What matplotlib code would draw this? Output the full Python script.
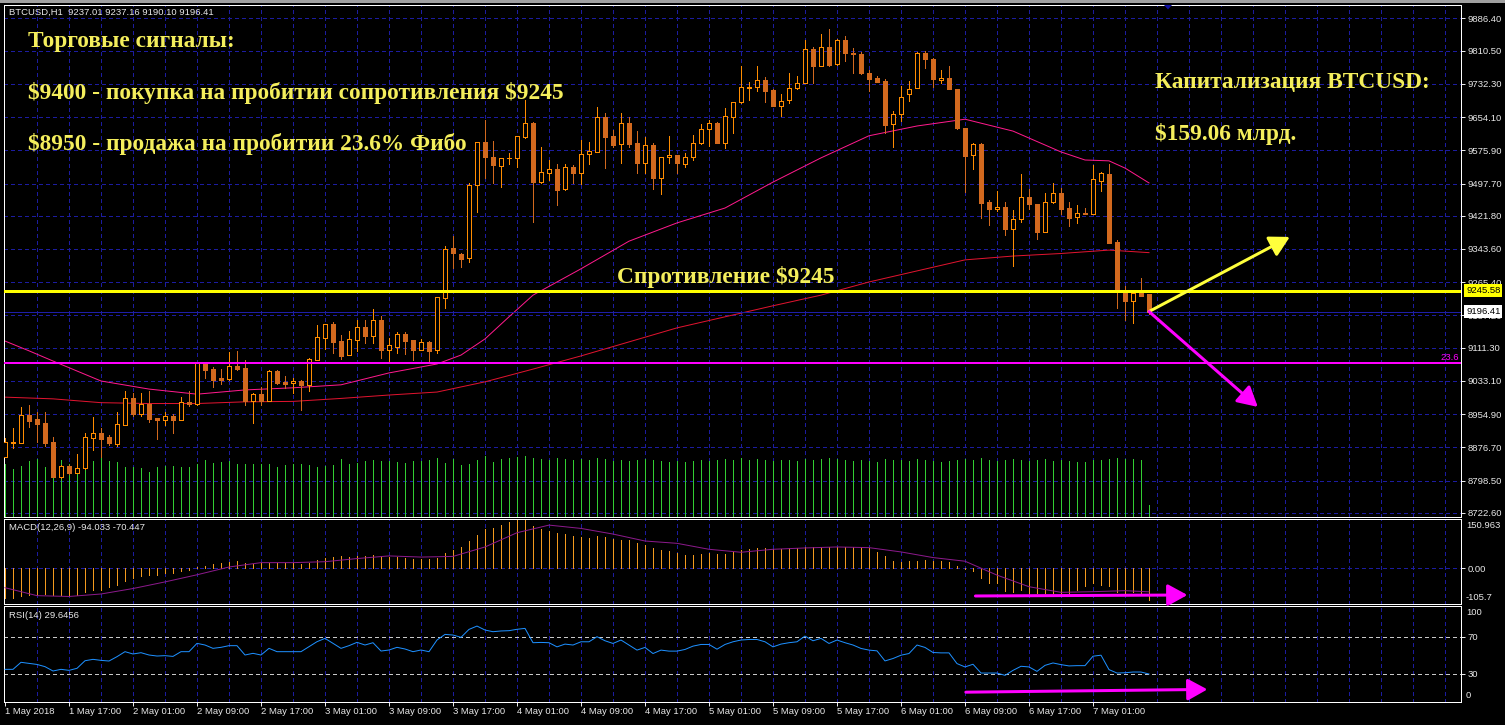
import numpy as np
import matplotlib
matplotlib.use("Agg")
import matplotlib.pyplot as plt
from matplotlib import transforms
from matplotlib.patches import Rectangle, FancyArrowPatch, Polygon

# ---------------- data ----------------
opens = [8855, 8888, 8888, 8952, 8944, 8933, 8889, 8808, 8833, 8817,
         8828, 8900, 8910, 8901, 8885, 8930, 8992, 8956, 8980, 8946,
         8941, 8951, 8942, 8984, 8978, 9075, 9061, 9040, 9038, 9068,
         9064, 8986, 9002, 8986, 9057, 9031, 9028, 9033, 9024, 9083,
         9135, 9167, 9127, 9093, 9130, 9160, 9139, 9177, 9106, 9113,
         9144, 9129, 9106, 9125, 9106, 9229, 9346, 9332, 9322, 9493,
         9595, 9560, 9538, 9557, 9557, 9608, 9639, 9502, 9523, 9532,
         9484, 9537, 9523, 9566, 9572, 9653, 9609, 9590, 9639, 9592,
         9545, 9589, 9510, 9561, 9565, 9544, 9559, 9592, 9625, 9641,
         9594, 9653, 9689, 9722, 9724, 9741, 9718, 9680, 9693, 9722,
         9735, 9813, 9773, 9818, 9778, 9835, 9805, 9802, 9757, 9745,
         9739, 9637, 9661, 9708, 9722, 9805, 9790, 9741, 9745, 9719,
         9628, 9565, 9591, 9455, 9437, 9442, 9391, 9413, 9467, 9449,
         9384, 9455, 9475, 9439, 9418, 9429, 9425, 9504, 9520, 9361,
         9247, 9221, 9243, 9237.01]
highs = [8900, 8922, 8972, 8976, 8960, 8960, 8901, 8836, 8836, 8861,
         8910, 8948, 8922, 8906, 8960, 9009, 9004, 9004, 9009, 8946,
         8960, 8955, 8995, 9009, 9076, 9076, 9067, 9061, 9101, 9104,
         9082, 9004, 9019, 9059, 9059, 9045, 9040, 9035, 9087, 9165,
         9167, 9172, 9142, 9151, 9177, 9177, 9202, 9186, 9134, 9148,
         9148, 9130, 9132, 9127, 9231, 9351, 9374, 9333, 9499, 9595,
         9647, 9598, 9558, 9569, 9610, 9694, 9643, 9584, 9553, 9544,
         9544, 9541, 9600, 9595, 9678, 9663, 9624, 9663, 9653, 9621,
         9608, 9592, 9561, 9609, 9565, 9569, 9612, 9638, 9647, 9643,
         9675, 9689, 9774, 9737, 9774, 9748, 9719, 9708, 9757, 9751,
         9835, 9820, 9849, 9861, 9837, 9845, 9816, 9806, 9765, 9751,
         9743, 9668, 9727, 9739, 9806, 9809, 9792, 9765, 9773, 9720,
         9629, 9594, 9592, 9459, 9480, 9455, 9435, 9520, 9484, 9449,
         9476, 9500, 9486, 9453, 9447, 9440, 9541, 9525, 9543, 9365,
         9257, 9241, 9276, 9237.16]
lows = [8855, 8876, 8888, 8925, 8890, 8881, 8808, 8805, 8815, 8817,
        8827, 8871, 8855, 8882, 8881, 8930, 8951, 8951, 8937, 8897,
        8929, 8911, 8942, 8974, 8977, 9041, 9018, 9027, 9035, 9059,
        8977, 8934, 8977, 8986, 9027, 9017, 9005, 8965, 9010, 9083,
        9108, 9099, 9085, 9093, 9104, 9122, 9122, 9087, 9078, 9099,
        9097, 9082, 9106, 9080, 9099, 9205, 9299, 9301, 9314, 9431,
        9511, 9499, 9490, 9544, 9537, 9605, 9408, 9500, 9506, 9447,
        9482, 9500, 9497, 9544, 9572, 9533, 9584, 9547, 9584, 9523,
        9523, 9484, 9473, 9547, 9523, 9537, 9553, 9591, 9587, 9592,
        9581, 9616, 9686, 9694, 9716, 9690, 9681, 9657, 9688, 9720,
        9733, 9735, 9773, 9774, 9776, 9787, 9758, 9755, 9716, 9737,
        9616, 9583, 9645, 9692, 9722, 9769, 9724, 9735, 9719, 9627,
        9478, 9531, 9416, 9400, 9434, 9377, 9304, 9408, 9438, 9367,
        9384, 9451, 9426, 9398, 9405, 9425, 9425, 9481, 9358, 9205,
        9177, 9169, 9234, 9190.10]
closes = [8889, 8890, 8952, 8940, 8932, 8888, 8808, 8833, 8817, 8828,
          8901, 8910, 8897, 8888, 8931, 8992, 8956, 8980, 8944, 8941,
          8951, 8942, 8984, 8978, 9075, 9059, 9035, 9035, 9068, 9061,
          8986, 9002, 8986, 9057, 9028, 9027, 9033, 9024, 9085, 9136,
          9167, 9125, 9092, 9132, 9160, 9139, 9177, 9106, 9118, 9144,
          9127, 9106, 9125, 9104, 9230, 9343, 9335, 9321, 9493, 9595,
          9559, 9542, 9557, 9558, 9609, 9639, 9502, 9524, 9531, 9482,
          9537, 9522, 9566, 9574, 9653, 9608, 9588, 9639, 9591, 9545,
          9588, 9510, 9561, 9565, 9545, 9559, 9592, 9625, 9641, 9594,
          9657, 9689, 9724, 9725, 9741, 9716, 9681, 9692, 9722, 9733,
          9813, 9773, 9818, 9777, 9835, 9804, 9802, 9757, 9744, 9737,
          9635, 9661, 9702, 9719, 9804, 9790, 9743, 9745, 9719, 9628,
          9563, 9591, 9451, 9437, 9442, 9391, 9413, 9467, 9449, 9384,
          9455, 9475, 9438, 9417, 9428, 9426, 9508, 9522, 9358, 9247,
          9221, 9241, 9234, 9196.41]
volumes = [2635, 2385, 2550, 2800, 2885, 2465, 2385, 2835, 2635, 2685,
           2685, 2800, 2965, 2800, 2735, 2500, 2500, 2435, 2250, 2500,
           2550, 2550, 2500, 2500, 2635, 2835, 2700, 2715, 2800, 2635,
           2635, 2635, 2635, 2635, 2500, 2600, 2635, 2635, 2600, 2465,
           2550, 2600, 2885, 2635, 2685, 2800, 2835, 2800, 2800, 2750,
           2685, 2800, 2800, 2850, 2935, 2700, 2885, 2600, 2635, 2850,
           3050, 2750, 2900, 2950, 3000, 3050, 2950, 2900, 2850, 2950,
           2900, 2850, 2900, 2850, 2950, 2900, 2800, 2850, 2800, 2850,
           2900, 2850, 2800, 2750, 2800, 2750, 2800, 2850, 2800, 2850,
           2900, 2850, 2950, 2850, 2900, 2850, 2800, 2850, 2850, 2800,
           2900, 2850, 2900, 2950, 2900, 2850, 2800, 2850, 2800, 2750,
           2900, 2850, 2850, 2800, 2900, 2850, 2800, 2750, 2800, 2850,
           2900, 2850, 2950, 2850, 2800, 2850, 2900, 2850, 2800, 2850,
           2900, 2800, 2850, 2800, 2750, 2750, 2850, 2850, 2900, 2950,
           2900, 2900, 2850, 600]

ma_fast_bars = [0, 3, 6, 12, 18, 24, 30, 36, 42, 48, 54, 57, 60, 63, 66, 72, 78, 84,
                90, 96, 102, 108, 114, 120, 126, 132, 135, 138, 140, 143]
ma_fast_vals = [9127, 9104, 9080, 9033, 9014, 9002, 9012, 9017, 9024, 9052, 9073, 9094,
                9132, 9184, 9235, 9297, 9362, 9405, 9440, 9501, 9558, 9610, 9633, 9649,
                9621, 9572, 9553, 9551, 9534, 9499]
ma_slow_bars = [0, 6, 12, 18, 24, 30, 36, 42, 48, 54, 60, 66, 72, 78, 84, 90, 96,
                102, 108, 114, 120, 126, 132, 138, 143]
ma_slow_vals = [8995, 8991, 8982, 8980, 8980, 8984, 8985, 8992, 9000, 9007, 9031, 9061,
                9092, 9125, 9158, 9184, 9210, 9235, 9266, 9292, 9318, 9327, 9333, 9341, 9335]

macd_hist = [-90, -90, -84, -81, -79, -76, -81, -81, -83, -81,
             -71, -66, -66, -55, -50, -36.5, -29, -24, -21, -19,
             -15, -15, -8, -6, 4, 9, 12.5, 16, 20, 23,
             17.7, 12.5, 17.7, 17.7, 17.7, 17.7, 17.7, 14.6, 17.7, 26,
             33, 35.5, 36.5, 35.5, 38.6, 38.6, 41.7, 38.6, 35.5, 35.5,
             33, 30, 28, 28, 33, 46, 57, 64.7, 82, 101,
             119, 122, 131, 140, 150.9, 145, 128, 118, 112.6, 107.4,
             104, 97, 95, 91.8, 97, 94, 89.7, 86.6, 86.6, 76,
             71, 60.5, 55.3, 52, 48, 41.7, 41.7, 44.8, 48, 44.8,
             44.8, 50, 55.3, 58.4, 60.5, 62.6, 58.4, 58.4, 60.5, 62.6,
             65.7, 65.7, 65.7, 65.7, 65.7, 65.7, 65.7, 65.7, 60.5, 50,
             37.5, 24, 18.8, 24, 24, 27, 24, 22, 18.8, 8.3,
             -2, -7.3, -28, -43.8, -43.8, -66.8, -70, -64.7, -73, -75,
             -75, -73, -75, -73, -64.7, -54, -43.8, -49, -54, -70,
             -75, -70, -75, -94.033]
signal_bars = [0, 4, 8, 12, 16, 20, 24, 28, 32, 36, 40, 44, 48, 52, 56, 60, 64, 68,
               72, 76, 80, 84, 88, 92, 96, 100, 104, 108, 112, 116, 120, 124, 128,
               132, 136, 140, 143]
signal_vals = [-58, -82, -84.5, -77, -60.5, -40.5, -19, 4.5, 17.7, 17.7, 20.5, 30, 38,
               34.5, 36.5, 65, 108, 131, 121, 104, 83, 76, 58, 49, 58, 62, 65, 63, 50,
               33, 22, -20, -55, -72, -70, -67, -70.447]

rsi = [34.7, 34.7, 42.3, 41.2, 40, 37.6, 32.9, 34.7, 33.6, 35.8,
       44, 45.5, 44.4, 43.7, 48.4, 53.8, 51.3, 52.7, 50.2, 49.1,
       49.5, 48.7, 53.8, 53.8, 62.8, 61, 57.4, 58.5, 60.3, 60.3,
       50.2, 52, 50.2, 57.4, 53.8, 53.8, 53.8, 53.8, 59.2, 64.6,
       68.2, 62.8, 57.4, 60.3, 63.9, 61, 63.5, 54.5, 55.6, 58.5,
       56.7, 53.8, 55.6, 53.8, 66.4, 72.5, 71.8, 69.3, 77.9, 81.5,
       77.2, 75.4, 76.2, 76.5, 78, 79, 63.5, 63.8, 63.5, 59,
       62, 61, 64.5, 64.5, 70, 65.6, 62.7, 66.4, 61, 55.5,
       58.4, 51.8, 55.5, 54.4, 54.4, 56.2, 59.8, 61.6, 61.6, 56.5,
       61.6, 64.5, 66.4, 67, 67, 64.5, 59, 62, 63.5, 64.5,
       70.7, 65.6, 68.2, 62.7, 66.4, 63.5, 61, 57.3, 55.5, 54.7,
       43.8, 46.4, 50, 51.8, 61, 58.4, 52.9, 52.5, 52.5, 40.9,
       37.3, 40.2, 30.7, 30.7, 30.7, 28.2, 33.6, 38, 37.3, 32.5,
       39, 41.6, 39.8, 38.4, 38.7, 38.7, 48.9, 50, 34.4, 30.7,
       31, 31.8, 31.8, 29.6456]

price_ticks = [9886.40, 9810.50, 9732.30, 9654.10, 9575.90, 9497.70, 9421.80, 9343.60,
               9265.40, 9187.20, 9111.30, 9033.10, 8954.90, 8876.70, 8798.50, 8722.60]
time_label_bars = [0, 8, 16, 24, 32, 40, 48, 56, 64, 72, 80, 88, 96, 104, 112, 120, 128, 136]
time_labels = ["1 May 2018", "1 May 17:00", "2 May 01:00", "2 May 09:00", "2 May 17:00",
               "3 May 01:00", "3 May 09:00", "3 May 17:00", "4 May 01:00", "4 May 09:00",
               "4 May 17:00", "5 May 01:00", "5 May 09:00", "5 May 17:00", "6 May 01:00",
               "6 May 09:00", "6 May 17:00", "7 May 01:00"]
resistance = 9245.58
fibo_236 = 9076.0
last_price = 9196.41

# ---------------- style ----------------
W, H, DPI = 1505, 725, 100
plt.rcParams['font.family'] = ['Liberation Sans', 'DejaVu Sans']
plt.rcParams['lines.scale_dashes'] = False
GRID = '#1C1CA0'
FG = '#E8E8E8'
UP = '#FF8C00'
DN = '#D2691E'
YEL_TXT = '#F4EE5C'
LBL = 6.8
PX = 72.0 / DPI
DASH = (0, (4 * PX, 3 * PX))

fig = plt.figure(figsize=(W / DPI, H / DPI), dpi=DPI, facecolor='black')


def rect(left, top, right, bottom):
    return [left / W, 1 - bottom / H, (right - left) / W, (bottom - top) / H]


def fpos(x, y):
    return x / W, 1 - y / H


ax = fig.add_axes(rect(4, 5, 1461, 516.7))
axm = fig.add_axes(rect(4, 518.5, 1461, 603.5), sharex=ax)
axr = fig.add_axes(rect(4, 606, 1461, 701.7), sharex=ax)

idx = np.arange(len(closes))
O = np.array(opens, float)
Hh = np.array(highs, float)
L = np.array(lows, float)
C = np.array(closes, float)

for a in (ax, axm, axr):
    a.set_facecolor('black')
    for s in a.spines.values():
        s.set_color('white')
        s.set_linewidth(1 * PX)
    a.tick_params(axis='y', which='both', left=False, right=True, labelleft=False,
                  labelright=True, colors=FG, labelcolor=FG, labelsize=LBL,
                  length=3, width=1 * PX, pad=2)
    a.tick_params(axis='x', bottom=False, labelbottom=False, top=False)
    for b in range(4, 184, 4):
        a.axvline(b, color=GRID, lw=1 * PX, ls=DASH, zorder=0.5, antialiased=False)

ax.set_xlim(-0.125, 182)
ax.set_ylim(8713.7, 9917.7)

# price grid and ticks
ax.set_yticks(price_ticks)
ax.set_yticklabels([f"{v:.2f}" for v in price_ticks])
for v in price_ticks:
    ax.axhline(v, color=GRID, lw=1 * PX, ls=DASH, zorder=0.5, antialiased=False)

# volume (bottom of main window)
vol_tr = transforms.blended_transform_factory(ax.transData, ax.transAxes)
VOL_TOP = 25600
ax.vlines(idx, 0, np.array(volumes) / VOL_TOP, transform=vol_tr, color='#32CD32',
          lw=1 * PX, zorder=1, antialiased=False)

# moving averages
ax.plot(ma_slow_bars, ma_slow_vals, color='#E0142F', lw=1 * PX, zorder=2)
ax.plot(ma_fast_bars, ma_fast_vals, color='#FF1A8C', lw=1 * PX, zorder=2)

# candles
up = C >= O
wick_colors = [UP if u else DN for u in up]
ax.vlines(idx, L, Hh, colors=wick_colors, lw=1 * PX, zorder=3, antialiased=False)
body_lo = np.minimum(O, C)
body_h = np.maximum(np.abs(C - O), 0.8)
ax.bar(idx[up], body_h[up], bottom=body_lo[up], width=0.62, facecolor='black',
       edgecolor=UP, lw=1 * PX, zorder=4, antialiased=False)
ax.bar(idx[~up], body_h[~up], bottom=body_lo[~up], width=0.62, facecolor=DN,
       edgecolor=DN, lw=1 * PX, zorder=4, antialiased=False)

# horizontal levels
ax.axhline(last_price, color='#1E1EA8', lw=1 * PX, zorder=2.5)
ax.axhline(fibo_236, color='#FF00FF', lw=2 * PX, zorder=5)
ax.axhline(resistance, color='#FFFF00', lw=3 * PX, zorder=5)
lvl_tr = transforms.blended_transform_factory(ax.transAxes, ax.transData)
ax.text(0.9986, fibo_236 + 2, '23.6', transform=lvl_tr, ha='right', va='bottom',
        color='#FF00FF', fontsize=LBL, zorder=6)
ax.text(1.0035, resistance, f"{resistance:.2f}", transform=lvl_tr, ha='left',
        va='center', color='black', fontsize=LBL, zorder=10, clip_on=False,
        bbox=dict(boxstyle='square,pad=0.2', fc='#FFFF00', ec='none'))
ax.text(1.0035, last_price, f"{last_price:.2f}", transform=lvl_tr, ha='left',
        va='center', color='black', fontsize=LBL, zorder=10, clip_on=False,
        bbox=dict(boxstyle='square,pad=0.2', fc='white', ec='none'))


# arrows
def arrow(a, p0, p1, color):
    arr = FancyArrowPatch(p0, p1, arrowstyle='-|>,head_length=1.0,head_width=0.55',
                          mutation_scale=12, color=color, lw=3 * PX, shrinkA=0,
                          shrinkB=0, zorder=8, clip_on=False)
    a.add_patch(arr)


arrow(ax, (143, last_price), (160.6, 9372), '#FFFF3C')
arrow(ax, (143, last_price), (156.6, 8972), '#FF00FF')

# MACD window
axm.set_ylim(-105.7, 150.963)
axm.axhline(0, color=GRID, lw=1 * PX, ls=DASH, zorder=0.5, antialiased=False)
axm.vlines(idx, 0, macd_hist, color='#F39A1E', lw=1 * PX, zorder=2, antialiased=False)
axm.plot(signal_bars, signal_vals, color='#8B1A8B', lw=1 * PX, zorder=3)
axm.set_yticks([0])
axm.set_yticklabels(['0.00'])
arrow(axm, (121.3, -83), (147.8, -80), '#FF00FF')

# RSI window
axr.set_ylim(-0.3, 103.2)
for lv in (70, 30):
    axr.axhline(lv, color='#C8C8C8', lw=1 * PX, ls=DASH, zorder=0.6, antialiased=False)
axr.plot(idx, rsi, color='#1E90FF', lw=1 * PX, zorder=3)
axr.set_yticks([70, 30])
axr.set_yticklabels(['70', '30'])
arrow(axr, (120.1, 10), (150.3, 13), '#FF00FF')

# time axis
axr.tick_params(axis='x', bottom=True, labelbottom=True, colors=FG, labelcolor=FG,
                labelsize=LBL, length=3, width=1 * PX, pad=0.5)
axr.set_xticks(time_label_bars)
axr.set_xticklabels(time_labels)
for t in axr.get_xticklabels():
    t.set_ha('left')
ax.set_xlim(-0.125, 182)

# edge labels of sub windows
for txt, x, y, va in [('150.963', 1466, 521, 'top'), ('-105.7', 1466, 602.5, 'bottom'),
                      ('100', 1466, 608, 'top'), ('0', 1466, 700.5, 'bottom')]:
    fig.text(*fpos(x, y), txt, color=FG, fontsize=LBL, va=va, ha='left')

# window info texts
fig.text(*fpos(9, 12.7), 'BTCUSD,H1  9237.01 9237.16 9190.10 9196.41', color=FG,
         fontsize=LBL, va='center', ha='left')
fig.text(*fpos(9, 527.7), 'MACD(12,26,9) -94.033 -70.447', color=FG, fontsize=LBL,
         va='center', ha='left')
fig.text(*fpos(9, 615), 'RSI(14) 29.6456', color=FG, fontsize=LBL, va='center', ha='left')

# big yellow annotations
serif = dict(family=['Liberation Serif', 'DejaVu Serif'], weight='bold', size=16.8,
             color=YEL_TXT, va='center', ha='left', parse_math=False)
fig.text(*fpos(28, 42), 'Торговые сигналы:', **serif)
fig.text(*fpos(28, 93), '$9400 - покупка на пробитии сопротивления $9245', **serif)
fig.text(*fpos(28, 144), '$8950 - продажа на пробитии 23.6% Фибо', **serif)
fig.text(*fpos(1155, 82), 'Капитализация BTCUSD:', **serif)
fig.text(*fpos(1155, 134), '$159.06 млрд.', **serif)
fig.text(*fpos(617, 277), 'Спротивление $9245', **serif)

# window chrome
fig.patches.append(Rectangle((0, 1 - 3 / H), 1, 3 / H, transform=fig.transFigure,
                             fc='#A0A0A0', ec='none', zorder=20))
fig.patches.append(Polygon([fpos(1164, 5), fpos(1172, 5), fpos(1168, 9.5)], closed=True,
                           transform=fig.transFigure, fc='#1010A0', ec='none', zorder=20))

fig.savefig('out.png', dpi=DPI, facecolor='black')
